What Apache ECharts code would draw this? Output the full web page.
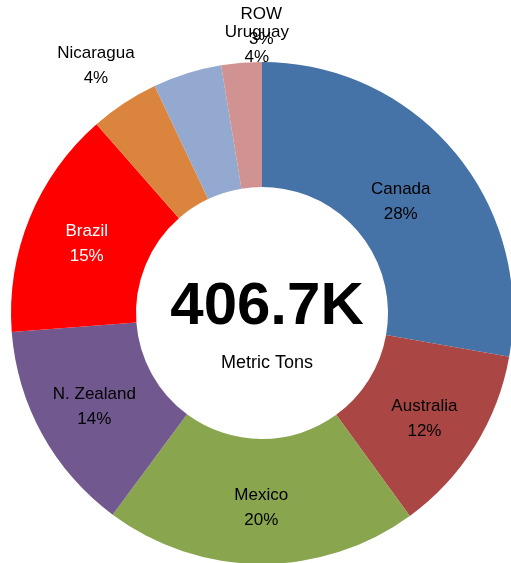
<!DOCTYPE html>
<html><head><meta charset="utf-8">
<script src="https://cdn.jsdelivr.net/npm/echarts@6/dist/echarts.min.js"></script>
<style>html,body{margin:0;padding:0;background:#fff}#c{width:511px;height:563px}</style>
</head><body><div id="c"></div>
<script>
const categories = ['Canada','Australia','Mexico','N. Zealand','Brazil','Nicaragua','Uruguay','ROW'];
const values = [113, 49.6, 82, 55.5, 60, 18, 18, 10.6];
const colors = ['#4572A7','#AA4643','#89A54E','#71588F','#FF0000','#DB843D','#93A9CF','#D19392'];
const labelColors = ['#000','#000','#000','#000','#fff','#000','#000','#000'];
const totalLabel = '406.7K';
const unitLabel = 'Metric Tons';
// label offsets from the default inside position
const labelShift = {0: [-8, 12], 1: [0, 4], 2: [0, 3], 3: [0, 1], 4: [2, 3], 5: [-61, -87], 6: [52, -85], 7: [15, -95]};

const chart = echarts.init(document.getElementById('c'));
chart.setOption({
  animation: false,
  title: [
    {text: totalLabel, left: 262, top: 272, textAlign: 'center',
     textStyle: {fontFamily: 'Liberation Sans', fontWeight: 'bold', fontSize: 60, color: '#000'}},
    {text: unitLabel, left: 262, top: 349, textAlign: 'center',
     textStyle: {fontFamily: 'Liberation Sans', fontWeight: 'normal', fontSize: 18, color: '#000'}}
  ],
  series: [{
    type: 'pie',
    center: [262, 313],
    radius: [126, 251],
    startAngle: 90,
    clockwise: true,
    avoidLabelOverlap: false,
    data: categories.map((c, i) => ({name: c, value: values[i], itemStyle: {color: colors[i]}, label: {color: labelColors[i]}})),
    label: {
      show: true,
      position: 'inside',
      formatter: p => p.name + '\n' + Math.round(p.percent) + '%',
      fontFamily: 'Liberation Sans',
      fontSize: 17,
      lineHeight: 25
    },
    labelLine: {show: false},
    labelLayout: p => {
      const s = labelShift[p.dataIndex];
      return s ? {dx: s[0], dy: s[1]} : {};
    },
    emphasis: {disabled: true}
  }]
});
</script></body></html>
